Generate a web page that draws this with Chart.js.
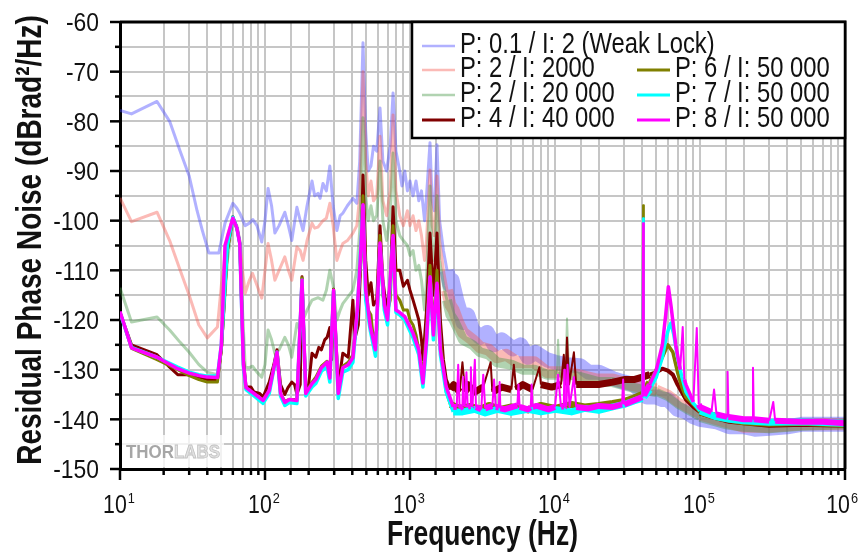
<!DOCTYPE html>
<html>
<head>
<meta charset="utf-8">
<script src="https://cdn.jsdelivr.net/npm/chart.js@4.4.0/dist/chart.umd.min.js"></script>
<style>
html, body { margin: 0; padding: 0; background: #fff; }
</style>
</head>
<body>
<canvas id="noiseChart" width="859" height="559"></canvas>
<script>
// Frekvenser i Hz, värden i dBrad²/Hz
const weakLock = [[10,-77.8],[12,-78.5],[18,-76],[22,-80],[26,-86],[30,-91],[34,-98],[37,-102],[41,-106.5],[48,-106.5],[53,-100.5],[60,-96.5],[64,-97.5],[67,-98.5],[73,-101],[78,-100.5],[82.5,-99.8],[88,-101],[95,-104.3],[100,-100],[105,-93.5],[111,-97],[117,-102.5],[125,-101],[137,-98.3],[145,-101],[153,-104],[166,-97.3],[175,-100],[183,-102],[195,-97],[211,-92],[220,-95],[232,-94.5],[240,-95.5],[251,-92.5],[265,-94],[280,-89],[295,-97],[313,-102],[330,-99],[344,-98.5],[370,-97],[404,-95.5],[430,-96.5],[450,-88],[474,-64.2],[495,-82],[515,-90],[538,-89],[560,-85],[590,-86],[621,-77.3],[650,-88],[690,-90],[730,-85],[764,-74.3],[800,-86],[850,-90],[880,-93],[920,-90],[960,-94],[1000,-92],[1050,-95],[1100,-92],[1150,-96],[1200,-94],[1260,-100],[1300,-95],[1374,-84.3],[1420,-96],[1470,-98],[1535,-84.7],[1600,-100],[1700,-106],[1800,-110],[1887,-113],[1950,-112],[2100,-116],[2200,-118],[2320,-120.5],[2500,-119],[2700,-122],[3040,-123.5],[3400,-122.5],[3800,-125],[4300,-124],[5130,-125.8],[5800,-125],[6500,-127.5],[7300,-126.5],[8800,-128],[10000,-128.5],[12000,-129],[14900,-129.2],[17000,-130.5],[20000,-130.5],[25100,-131.8],[30000,-132.5],[35000,-133],[43000,-135.5],[50000,-135.5],[55000,-136],[60000,-136],[65000,-137],[70000,-138],[80000,-138.5],[90000,-139.5],[100000,-140],[130000,-140.5],[160000,-141.5],[200000,-141.5],[240000,-142],[300000,-141.8],[400000,-141.5],[500000,-141],[700000,-141],[1000000,-141]];

const p2i2000 = [[10,-95.4],[12,-100.2],[18,-98.3],[22,-104],[26,-110],[30,-115],[35,-121],[40,-123.6],[47,-121.4],[50,-113],[55,-103],[60,-99.5],[64,-101],[67,-104],[70,-110],[73,-114.6],[78,-112],[82,-110.6],[88,-113],[95,-115.6],[100,-110],[105,-104.6],[111,-108],[117,-112],[125,-110],[137,-107.3],[145,-110],[153,-112],[166,-105.3],[175,-106],[183,-108],[195,-104],[211,-100.5],[220,-101.5],[232,-101.3],[251,-100],[265,-99.5],[280,-96.5],[295,-101],[313,-108],[330,-106],[344,-104.6],[370,-104],[404,-102.5],[430,-101],[450,-95],[474,-70],[495,-88],[515,-95],[538,-92],[560,-96],[590,-95],[621,-83],[650,-96],[690,-99],[730,-94],[764,-78.7],[800,-94],[850,-99],[900,-101],[960,-98],[1000,-101],[1050,-99],[1100,-102],[1150,-100],[1200,-103],[1260,-108],[1300,-104],[1374,-89.8],[1420,-101],[1470,-103],[1535,-91],[1600,-104],[1700,-110],[1800,-114],[1900,-117],[2000,-118],[2150,-120.5],[2320,-122.5],[2700,-124],[3040,-125.5],[3500,-126],[3980,-127.5],[4600,-127],[5500,-128.5],[7200,-128.5],[8800,-130.5],[11000,-130.5],[14000,-131],[19500,-132],[25000,-132],[33000,-133],[40000,-133.5],[50000,-134],[60000,-135],[70000,-136.5],[80000,-137.5],[100000,-139],[150000,-140.5],[200000,-141.5],[300000,-141.5],[500000,-141],[1000000,-141]];

const p2i20000 = [[10,-113.5],[12,-120.4],[18,-119.4],[22,-122],[26,-124.5],[30,-126.5],[35,-129],[40,-130.5],[47,-131],[50,-126],[55,-108],[60,-100],[64,-101.5],[67,-104],[70,-118],[73,-129.5],[78,-129.6],[82,-129.3],[88,-130.5],[95,-131.5],[100,-129],[105,-122],[111,-124],[117,-126.7],[125,-126],[137,-123.5],[145,-125],[153,-127.5],[166,-120.7],[175,-122],[183,-120],[195,-118],[211,-116],[232,-115.5],[251,-116],[265,-114],[280,-110],[295,-113],[313,-120],[330,-118],[344,-116.7],[370,-115.5],[404,-114],[430,-110],[450,-102],[474,-79.3],[495,-95],[515,-100],[538,-97],[560,-100],[590,-99],[621,-88],[650,-100],[690,-104],[730,-99],[764,-86.4],[800,-100],[850,-103],[900,-104],[960,-105],[1000,-107],[1050,-106],[1100,-110],[1150,-109],[1200,-112],[1260,-118],[1300,-112],[1374,-93],[1420,-106],[1470,-108],[1535,-95],[1600,-108],[1700,-113],[1800,-116],[1900,-119],[2000,-120],[2320,-124],[2700,-125],[3040,-126.5],[3500,-127],[3980,-128.5],[5000,-129],[6000,-130],[7200,-130],[8800,-131],[10300,-131],[10500,-124],[10800,-131.5],[11800,-131],[12100,-119.7],[12500,-131],[15000,-131.5],[20000,-132.5],[25000,-132.5],[33000,-133.5],[40000,-134],[50000,-134.5],[60000,-135.5],[70000,-137],[80000,-138],[100000,-139.5],[150000,-141],[200000,-141.5],[300000,-141.8],[500000,-141.3],[1000000,-141]];

const p4i40000 = [[10,-118.5],[12,-125],[18,-127],[22,-129.5],[25,-131],[30,-131],[35,-131.5],[40,-132],[47,-132],[50,-126],[55,-106],[60,-99.2],[64,-101.5],[67,-104.6],[71,-128],[74,-133.5],[80,-133.5],[84,-134.5],[92,-134.8],[97,-135.5],[107,-132.5],[115,-129],[121,-126],[128,-133],[137,-135],[144,-133.6],[153,-132.5],[160,-133],[166,-135],[175,-133],[180,-111.3],[191,-134],[200,-133],[211,-126.7],[224,-127.5],[235,-125.5],[245,-126],[258,-124],[268,-123.5],[280,-121.5],[288,-128],[297,-113.8],[320,-133.5],[344,-126.7],[375,-127.5],[404,-116],[415,-124],[440,-121],[458,-108],[474,-90.8],[495,-108],[515,-115],[538,-112.5],[560,-117],[590,-116],[621,-101],[650,-112],[690,-118],[730,-113],[764,-97.2],[800,-110],[850,-110],[900,-113.2],[960,-112],[1000,-114],[1050,-116],[1100,-118],[1150,-120],[1200,-124],[1230,-128],[1300,-118],[1374,-102.5],[1450,-115],[1535,-102.5],[1620,-120],[1700,-128],[1780,-132],[1900,-134],[2000,-133],[2200,-134.5],[2300,-128.5],[2400,-134.5],[2500,-133],[2800,-134.5],[3200,-133.5],[3600,-128.5],[3700,-134.5],[4300,-133.5],[5000,-134],[5200,-129],[5400,-134],[6000,-133],[7000,-134],[7800,-129.5],[8000,-133],[9500,-133.5],[11000,-133],[11500,-127],[11800,-133],[12100,-123.5],[12500,-133],[13500,-126.5],[14000,-133],[17000,-133],[20000,-133],[25000,-132.5],[30000,-132],[35000,-132],[40000,-131.5],[45000,-131],[50000,-130.5],[55000,-129.8],[60000,-130.2],[65000,-131],[70000,-133],[80000,-136],[90000,-137.5],[100000,-138.5],[130000,-139.5],[160000,-140.2],[200000,-140.5],[300000,-141],[500000,-140.8],[1000000,-141]];

const p6i50000 = [[10,-118.5],[12,-125.7],[18,-128],[25,-130],[30,-131.2],[35,-132],[40,-132.5],[47,-132.5],[50,-126],[55,-106],[60,-99.3],[64,-101.5],[67,-104.6],[71,-129],[74,-133.8],[84,-135],[97,-136],[107,-134.2],[121,-126.4],[128,-134.8],[137,-136.4],[147,-136],[166,-136],[180,-111.5],[191,-134.8],[211,-132.5],[224,-131.5],[245,-129.3],[268,-128.3],[280,-131],[297,-113.8],[320,-134.5],[344,-129.3],[375,-128.5],[404,-127],[430,-119],[458,-108],[474,-95],[495,-112],[515,-118],[538,-119],[560,-124],[590,-122],[621,-103],[650,-115],[690,-119],[730,-116],[764,-101],[800,-115],[850,-116],[900,-118],[960,-118],[1000,-120],[1050,-121],[1100,-123],[1150,-126],[1228,-131],[1300,-122],[1374,-109],[1450,-122],[1535,-110],[1620,-124],[1700,-130],[1780,-134.5],[1900,-137],[2200,-137.8],[2600,-137.4],[3000,-138],[3500,-137.2],[4200,-138],[5000,-137.5],[6500,-138.1],[8000,-137.2],[10000,-137.8],[13000,-137],[16000,-137.5],[20000,-137.2],[25000,-136.8],[30000,-136.4],[35000,-135.7],[40000,-135],[40500,-96.9],[41000,-134.8],[45000,-132.5],[50000,-130],[55000,-127.5],[60000,-125],[65000,-126.5],[70000,-130.5],[75000,-133.5],[80000,-135.5],[90000,-137],[100000,-138.5],[130000,-139.5],[160000,-140],[200000,-140.5],[300000,-140.8],[500000,-140.6],[1000000,-141]];

const p7i50000 = [[10,-118.5],[12,-125.5],[18,-127.5],[25,-129.5],[30,-130.5],[35,-131],[40,-131.3],[47,-131.3],[50,-125],[55,-105],[60,-99.3],[64,-101.5],[67,-104.6],[71,-129.5],[74,-134],[84,-135.3],[97,-136.8],[107,-134.8],[121,-126.5],[128,-135.3],[137,-137.2],[147,-136.6],[166,-136.8],[180,-112],[191,-135.3],[211,-133.5],[224,-132.8],[245,-130.3],[268,-129.5],[280,-132.5],[297,-114.2],[320,-135.8],[344,-130.5],[375,-130],[404,-128.5],[433,-118.5],[458,-105],[474,-97],[495,-116],[533,-122.2],[578,-127.3],[621,-105],[665,-118],[700,-121],[764,-103.5],[800,-118.5],[850,-119],[920,-120],[1047,-123.5],[1150,-127],[1228,-133.5],[1300,-125],[1374,-111.5],[1450,-124],[1535,-113],[1620,-127],[1775,-134.5],[1987,-138.5],[2300,-138.5],[2800,-138],[3300,-138.7],[4000,-138],[5000,-138.6],[6500,-138],[8000,-138.5],[10000,-138],[13000,-138.5],[16000,-137.8],[20000,-138.2],[25000,-137.5],[30000,-137],[35000,-136.3],[40000,-135.8],[40500,-99.5],[41000,-135.5],[45000,-134],[50000,-131.5],[55000,-127.5],[58000,-124],[61000,-121.5],[63000,-120.6],[66000,-123],[70000,-127.5],[75000,-131.5],[80000,-134.5],[90000,-136.8],[100000,-138.3],[130000,-139.5],[160000,-140],[200000,-140.3],[300000,-140.6],[500000,-140.5],[1000000,-140.8]];

const p8i50000 = [[10,-118.3],[12,-125.6],[18,-127.5],[25,-129.8],[30,-130.7],[35,-131.2],[40,-131.5],[47,-131.6],[50,-125],[53,-105],[60,-99.5],[64,-101.5],[67,-104.6],[71,-129],[74,-133.6],[84,-134.8],[97,-136.2],[107,-134.2],[121,-126.5],[128,-134.8],[137,-136.6],[147,-136],[166,-136.2],[180,-112],[191,-134.8],[211,-132.8],[224,-132],[245,-129.6],[268,-128.5],[280,-131.7],[297,-114],[320,-134.8],[344,-129.6],[375,-129],[404,-127.6],[433,-118],[458,-106],[474,-96.8],[495,-114],[533,-121.4],[578,-126],[621,-104.5],[665,-117],[700,-120],[764,-103],[800,-118],[850,-118.5],[920,-119.3],[1047,-122.6],[1150,-126],[1228,-132.7],[1300,-124],[1374,-111.3],[1450,-123],[1535,-112.6],[1620,-126],[1775,-133.4],[1987,-137.5],[2100,-137.5],[2150,-129],[2200,-137.8],[2300,-137.3],[2330,-131.5],[2360,-137.4],[2400,-137],[2450,-130.5],[2500,-137.5],[2600,-137.3],[2630,-129.5],[2660,-137.4],[2700,-137.2],[2800,-128],[2850,-137.5],[3100,-138],[3200,-131],[3300,-137.8],[3700,-137.3],[3800,-132],[3900,-137.5],[4100,-137.6],[4150,-132.5],[4200,-137.8],[4500,-138],[5500,-137.2],[5600,-133],[5700,-137.5],[6500,-138],[6800,-137.6],[6900,-133],[7000,-137.5],[7500,-137.3],[9000,-138],[10000,-137.5],[10500,-131],[11000,-137.5],[11500,-137.4],[11600,-130],[11700,-137.4],[12000,-137.3],[12200,-129],[12600,-137.5],[13500,-131.5],[14000,-137.5],[17000,-137.8],[20000,-137.3],[25000,-137.5],[29000,-137],[29500,-132],[30000,-137],[35000,-136.2],[40000,-135.5],[40500,-100.5],[41000,-135.2],[45000,-133],[50000,-130],[55000,-125],[58000,-119],[60500,-113.3],[63000,-117],[68000,-125],[73000,-130],[76000,-121.4],[78000,-132],[80000,-133],[90000,-136.5],[95000,-121.6],[98000,-137],[100000,-137.5],[120000,-138.5],[125000,-134],[130000,-139],[154000,-139.5],[155000,-130.4],[157000,-139.5],[200000,-140],[230000,-140],[232000,-129.6],[235000,-140],[300000,-140.3],[320000,-136.5],[330000,-140.3],[500000,-140.5],[700000,-140.5],[1000000,-140.8]];

const legendLabels = ['P: 0.1 / I: 2 (Weak Lock)', 'P: 2 / I: 2000', 'P: 2 / I: 20 000', 'P: 4 / I: 40 000', 'P: 6 / I: 50 000', 'P: 7 / I: 50 000', 'P: 8 / I: 50 000'];
const decadeTicks = [10, 100, 1000, 10000, 100000, 1000000];
const decadeExponents = ['1', '2', '3', '4', '5', '6'];
const yLabelTicks = [-60, -70, -80, -90, -100, -110, -120, -130, -140, -150];
const xTitle = 'Frequency (Hz)';
const yTitle = 'Residual Phase Noise (dBrad²/Hz)';

const FONT = '"Liberation Sans", Arial, sans-serif';

const seriesList = [
    { pts: weakLock,  color: 'rgba(70, 70, 255, 0.42)', width: 3,   band: 15, mid: 15,  spike: 6, order: 7 },
    { pts: p2i2000,   color: 'rgba(245, 90, 80, 0.42)', width: 3,   band: 12, mid: 10,  spike: 6, order: 6 },
    { pts: p2i20000,  color: 'rgba(70, 150, 70, 0.42)', width: 3,   band: 10, mid: 8,   spike: 6, order: 5 },
    { pts: p4i40000,  color: '#800000',                 width: 3,   band: 7,  mid: 4,   spike: 3, order: 4 },
    { pts: p6i50000,  color: '#808000',                 width: 3,   band: 7,  mid: 3.5, spike: 3, order: 3 },
    { pts: p7i50000,  color: '#00ffff',                 width: 3.5, band: 7,  mid: 3.5, spike: 3, order: 2 },
    { pts: p8i50000,  color: '#ff00ff',                 width: 3.5, band: 6,  mid: 3.5, spike: 3, order: 1 }
];

// Brett brusband över ~1.8 kHz, tunna spikar
function segWidth(s) {
    return ctx => {
        const x0 = ctx.p0.parsed.x;
        if (x0 < 1800) return s.width;
        const dy = Math.abs(ctx.p1.parsed.y - ctx.p0.parsed.y);
        if (x0 >= 42000 && x0 < 96000) return dy > 8 ? 2 : s.mid;
        return dy > s.spike ? 2 : s.band;
    };
}

const datasets = seriesList.map((s, i) => ({
    label: legendLabels[i],
    data: s.pts.map(p => ({ x: p[0], y: p[1] })),
    borderColor: s.color,
    borderWidth: s.width,
    borderJoinStyle: 'round',
    pointRadius: 0,
    tension: 0,
    order: s.order,
    segment: { borderWidth: segWidth(s) }
}));

// Smal text: Liberation Sans ihoptryckt i x-led
function narrowText(ctx, str, x, y, font, sx, align) {
    ctx.save();
    ctx.font = font;
    ctx.translate(x, y);
    ctx.scale(sx, 1);
    ctx.textAlign = align;
    ctx.textBaseline = 'alphabetic';
    ctx.fillText(str, 0, 0);
    ctx.restore();
}

const decorations = {
    id: 'decorations',
    beforeDatasetsDraw(chart) {
        const ctx = chart.ctx;
        const a = chart.chartArea;
        ctx.save();
        ctx.fillStyle = 'rgba(255,255,255,0.75)';
        ctx.fillRect(a.left + 2, a.bottom - 34, 102, 32);
        ctx.font = 'bold 18px ' + FONT;
        ctx.textBaseline = 'alphabetic';
        ctx.translate(a.left + 6, a.bottom - 11);
        ctx.scale(0.94, 1);
        ctx.fillStyle = '#a6a6a6';
        ctx.fillText('THOR', 0, 0);
        const w = ctx.measureText('THOR').width;
        ctx.fillStyle = '#e2e2e2';
        ctx.strokeStyle = '#c2c2c2';
        ctx.lineWidth = 0.8;
        ctx.fillText('LABS', w, 0);
        ctx.strokeText('LABS', w, 0);
        ctx.restore();
    },
    afterDraw(chart) {
        const ctx = chart.ctx;
        const a = chart.chartArea;
        const xs = chart.scales.x, ys = chart.scales.y;
        ctx.save();
        ctx.strokeStyle = '#000';
        ctx.lineWidth = 3;
        ctx.beginPath();
        ctx.moveTo(a.left, a.top); ctx.lineTo(a.right, a.top); ctx.lineTo(a.right, a.bottom);
        ctx.stroke();

        // y-ticks och etiketter
        ctx.lineWidth = 2.5;
        ctx.fillStyle = '#111';
        ys.ticks.forEach(t => {
            const y = ys.getPixelForValue(t.value);
            const major = yLabelTicks.includes(t.value);
            const len = major ? 10 : 5;
            ctx.beginPath(); ctx.moveTo(a.left - len, y); ctx.lineTo(a.left, y); ctx.stroke();
            if (major) narrowText(ctx, String(t.value), a.left - 21, y + 9.3, '26px ' + FONT, 0.88, 'right');
        });

        // x-ticks
        xs.ticks.forEach(t => {
            const x = xs.getPixelForValue(t.value);
            const len = decadeTicks.includes(t.value) ? 11 : 6;
            ctx.beginPath(); ctx.moveTo(x, a.bottom); ctx.lineTo(x, a.bottom + len); ctx.stroke();
        });

        // x-etiketter 10^n
        decadeTicks.forEach((f, i) => {
            const x = xs.getPixelForValue(f);
            ctx.font = '26px ' + FONT;
            const wb = ctx.measureText('10').width * 0.82;
            ctx.font = '15px ' + FONT;
            const we = ctx.measureText(decadeExponents[i]).width * 0.85;
            let x0 = x - (wb + we + 1) / 2 - 1;
            if (x0 + wb + we + 1 > 858) x0 = 858 - wb - we - 1;
            narrowText(ctx, '10', x0, a.bottom + 44, '26px ' + FONT, 0.82, 'left');
            narrowText(ctx, decadeExponents[i], x0 + wb + 1, a.bottom + 34, '15px ' + FONT, 0.85, 'left');
        });

        // axeltitlar
        narrowText(ctx, xTitle, (a.left + a.right) / 2, 545, 'bold 35px ' + FONT, 0.755, 'center');
        ctx.save();
        ctx.translate(41, 240);
        ctx.rotate(-Math.PI / 2);
        narrowText(ctx, yTitle, 0, 0, 'bold 35px ' + FONT, 0.8, 'center');
        ctx.restore();

        // legend
        const lx = 412, ly = a.top, lw = a.right - 412, lh = 116;
        ctx.fillStyle = '#fff';
        ctx.fillRect(lx, ly, lw, lh);
        ctx.strokeStyle = '#000';
        ctx.lineWidth = 2.5;
        ctx.strokeRect(lx, ly, lw, lh);
        const rows = [46, 70, 95, 120];
        const slots = [
            [422, rows[0]], [422, rows[1]], [422, rows[2]], [422, rows[3]],
            [637, rows[1]], [637, rows[2]], [637, rows[3]]
        ];
        seriesList.forEach((s, i) => {
            const [sx, sy] = slots[i];
            ctx.strokeStyle = s.color;
            ctx.lineWidth = i < 3 ? 2.5 : 3;
            ctx.beginPath(); ctx.moveTo(sx, sy); ctx.lineTo(sx + 33, sy); ctx.stroke();
            ctx.fillStyle = '#111';
            narrowText(ctx, legendLabels[i], sx + 38, sy + 7, '29px ' + FONT, 0.82, 'left');
        });
        ctx.restore();
    }
};

new Chart(document.getElementById('noiseChart').getContext('2d'), {
    type: 'line',
    data: { datasets },
    options: {
        responsive: false,
        animation: false,
        events: [],
        layout: { padding: { top: 22, right: 14, left: 0, bottom: 0 } },
        plugins: { legend: { display: false }, tooltip: { enabled: false } },
        scales: {
            x: {
                type: 'logarithmic',
                min: 10,
                max: 1000000,
                afterFit: s => { s.height = 90; },
                grid: { color: '#c6c6c6', lineWidth: 2, drawTicks: false },
                border: { color: '#000', width: 3 },
                ticks: { display: false, autoSkip: false }
            },
            y: {
                type: 'linear',
                min: -150,
                max: -60,
                afterFit: s => { s.width = 120; },
                grid: { color: '#c6c6c6', lineWidth: 2, drawTicks: false },
                border: { color: '#000', width: 3 },
                ticks: { display: false, stepSize: 5 }
            }
        }
    },
    plugins: [decorations]
});
</script>
</body>
</html>
